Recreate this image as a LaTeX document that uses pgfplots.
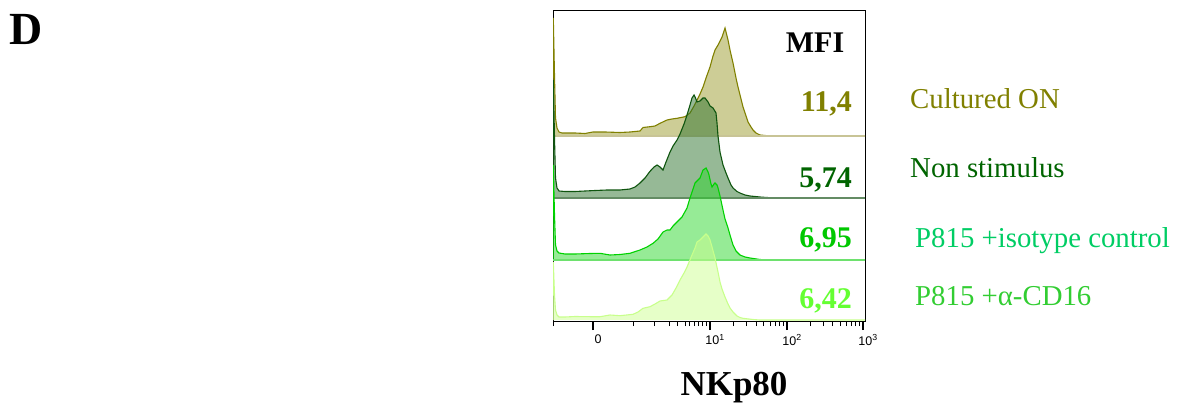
\documentclass[border=0pt]{standalone}
\usepackage{pgfplots}
\usepackage{pgfplotstable}
\pgfplotsset{compat=1.18}
\usepackage{fontspec}
\setmainfont{Liberation Serif}
\newfontfamily\tickfont{Liberation Sans}

\definecolor{lineA}{RGB}{128,128,0}
\definecolor{fillA}{RGB}{155,155,45}
\definecolor{baseA}{RGB}{200,196,150}
\definecolor{lineB}{RGB}{15,85,15}
\definecolor{fillB}{RGB}{45,115,45}
\definecolor{baseB}{RGB}{100,140,100}
\definecolor{lineC}{RGB}{0,210,0}
\definecolor{fillC}{RGB}{45,215,45}
\definecolor{baseC}{RGB}{110,225,110}
\definecolor{lineD}{RGB}{200,255,140}
\definecolor{fillD}{RGB}{205,255,145}
\definecolor{txtA}{RGB}{128,128,0}
\definecolor{txtB}{RGB}{0,100,0}
\definecolor{txtC}{RGB}{0,200,0}
\definecolor{txtD}{RGB}{100,255,50}
\definecolor{legC}{RGB}{0,205,100}
\definecolor{legD}{RGB}{50,205,50}

\pgfplotstableread{
x h
553 0
553.3 118
554.5 60
555.5 18
557 8
559 4
562 3
575 3
585 2.5
593 4
605 4
620 3.5
630 4
640 5
643 8.5
650 9.3
655 10
660 12.7
667 16
672 17
677 17.7
685 19.3
690 23
694 30
697 36
700 42
703 49
706 58
710 69
713 80
715 86
718 91
720 95
722 99
725 108
727 100
728 96
730 86
733 73
736 58
738 49
741 37
743 29
746 20
748 14
751 9
753 6
756 3
760 1
767 0.3
770 0
865 0
}\rowA

\pgfplotstableread{
x h
553 0
553.3 118
554.5 60
555.5 20
557 10
559 7
565 6.5
575 6.5
585 7
595 7.5
607 8
620 8
630 9
635 11
640 15
645 20
650 26.7
654 31
657 33
660 31
663 28
666 36
670 46
673 52
677 58
680 64
684 74
687 83
690 93
692 100
694 103
695.5 100
697 96
700 97
703 100
705 100
708 96
710 92
713 90
716 85
717 75
718 62
720 46
723 33
726 25
728 20
731 13
733 10
737 6.5
740 5
745 3
750 2
760 1
767 0.5
775 0
865 0
}\rowB

\pgfplotstableread{
x h
553 0
553.3 95
554.5 45
555.5 15
557 9
559 7
565 6
575 6
590 6.5
600 6.7
610 5
620 5.5
630 6.7
640 10
647 13
653 16.7
658 21
663 28
667 30
670 30
673 34
677 38
682 43
687 52
690 62
693 71
695 77
698 80
700 82
703 90
706 92
708 88
709 85
711 76
712 73
714 76
715 77
717 75
718 72
720 64
723 50
725 41
728 32
730 25
733 15
736 9
740 5
745 3
750 2
760 0.5
770 0
865 0
}\rowC

\pgfplotstableread{
x h
553 0
553.3 58
554.5 25
555.5 10
557 5
559 3
565 3
575 3.5
590 3.3
600 3.3
610 5
620 4.3
633 5.7
638 8
643 11.7
650 13.3
655 16
660 19
667 20
672 25
676 32
680 40
684 47
687 53
692 65
695 72
697 78
700 80
702 82
704 84
706 86
708 84
710 80
712 73
715 62
718 48
720 38
722 31
725 23
728 16
730 12
733 8
737 4
740 2.5
743 1.7
753 0.5
760 0
865 0
}\rowD

\begin{document}
\begin{tikzpicture}
\path[use as bounding box] (0,0) rectangle (1182pt,405pt);
\begin{axis}[
  at={(553pt,84pt)}, anchor=south west, scale only axis,
  width=312pt, height=311pt,
  xmin=553, xmax=865, ymin=0, ymax=311,
  axis line style={black, line width=0.8pt},
  ytick=\empty, xtick pos=bottom, tick align=outside,
  xtick={593,710,787,863},
  xticklabels={0,10\textsuperscript{1},10\textsuperscript{2},10\textsuperscript{3}},
  minor xtick={553,633,654,669,677,685,689,694,698,702,706,733.2,746.7,756.4,763.8,769.9,775.1,779.5,783.5,809.9,823.3,832.8,840.1,846.1,851.2,855.6,859.5},
  major tick length=9pt, minor tick length=5pt,
  major tick style={line width=2pt, black},
  minor tick style={line width=0.7pt, black},
  xticklabel style={font=\tickfont\fontsize{12.5}{12.5}\selectfont, xshift=5pt, yshift=-1pt},
]
% row A: Cultured ON
\addplot[draw=none, fill=fillA, fill opacity=0.5] table[x=x, y expr=\thisrow{h}+185] {\rowA};
\addplot[lineA, line width=1.1pt] table[x=x, y expr=\thisrow{h}+185] {\rowA};
\addplot[baseA, line width=1.5pt] coordinates {(553,185) (865,185)};
% row B: Non stimulus
\addplot[draw=none, fill=fillB, fill opacity=0.5] table[x=x, y expr=\thisrow{h}+123] {\rowB};
\addplot[lineB, line width=1.1pt] table[x=x, y expr=\thisrow{h}+123] {\rowB};
\addplot[baseB, line width=1.3pt] coordinates {(553,123) (865,123)};
% row C: P815 + isotype control
\addplot[draw=none, fill=fillC, fill opacity=0.5] table[x=x, y expr=\thisrow{h}+61] {\rowC};
\addplot[lineC, line width=1.1pt] table[x=x, y expr=\thisrow{h}+61] {\rowC};
\addplot[baseC, line width=1.5pt] coordinates {(553,61) (865,61)};
% row D: P815 + a-CD16
\addplot[draw=none, fill=fillD, fill opacity=0.5] table[x=x, y expr=\thisrow{h}+1] {\rowD};
\addplot[lineD, line width=1.1pt] table[x=x, y expr=\thisrow{h}+1] {\rowD};
\end{axis}

% texts
\node[anchor=base west, inner sep=0pt, font=\fontsize{46}{46}\selectfont\bfseries] at (9pt,360pt) {D};
\node[anchor=base, inner sep=0pt, font=\fontsize{30}{30}\selectfont\bfseries] at (815pt,352pt) {MFI};
\node[anchor=base east, inner sep=0pt, text=txtA, font=\fontsize{30}{30}\selectfont\bfseries] at (852pt,293pt) {11,4};
\node[anchor=base east, inner sep=0pt, text=txtB, font=\fontsize{30}{30}\selectfont\bfseries] at (852pt,218pt) {5,74};
\node[anchor=base east, inner sep=0pt, text=txtC, font=\fontsize{30}{30}\selectfont\bfseries] at (852pt,158pt) {6,95};
\node[anchor=base east, inner sep=0pt, text=txtD, font=\fontsize{30}{30}\selectfont\bfseries] at (852pt,97pt) {6,42};
\node[anchor=base west, inner sep=0pt, text=txtA, font=\fontsize{28.8}{29}\selectfont] at (910pt,296pt) {Cultured ON};
\node[anchor=base west, inner sep=0pt, text=txtB, font=\fontsize{28.8}{29}\selectfont] at (910pt,228pt) {Non stimulus};
\node[anchor=base west, inner sep=0pt, text=legC, font=\fontsize{28.8}{29}\selectfont] at (915pt,158pt) {P815 +isotype control};
\node[anchor=base west, inner sep=0pt, text=legD, font=\fontsize{28.8}{29}\selectfont] at (915pt,100pt) {P815 +α-CD16};
\node[anchor=base, inner sep=0pt, font=\fontsize{35}{35}\selectfont\bfseries] at (734pt,10pt) {NKp80};
\end{tikzpicture}
\end{document}
